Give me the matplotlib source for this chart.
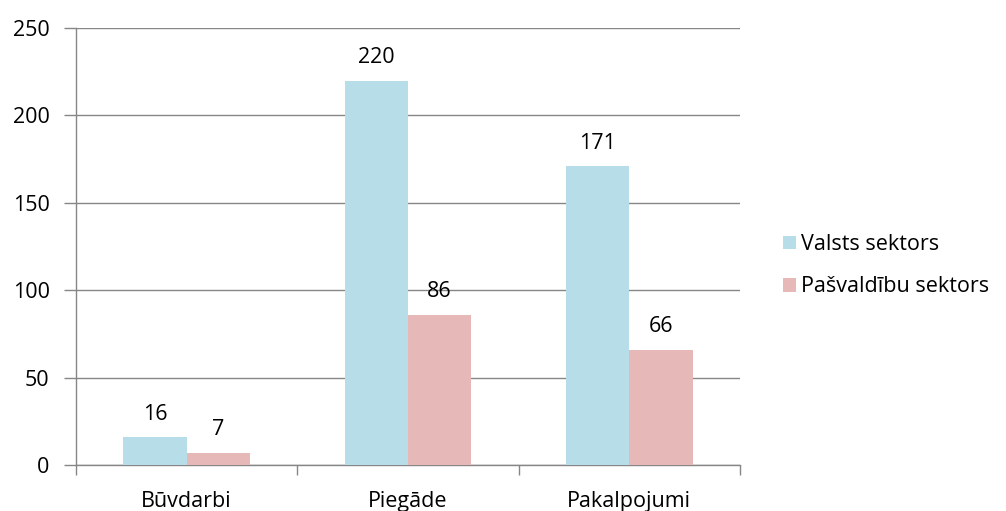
import matplotlib.pyplot as plt
import numpy as np

categories = ["Būvdarbi", "Piegāde", "Pakalpojumi"]
valsts = [16, 220, 171]
pasvaldibu = [7, 86, 66]
series_names = ["Valsts sektors", "Pašvaldību sektors"]
yticks = [0, 50, 100, 150, 200, 250]

plt.rcParams['font.family'] = ['Open Sans', 'DejaVu Sans']
fs = 15.5

fig = plt.figure(figsize=(10.06, 5.11), dpi=100)
ax = fig.add_axes([0.0755, 0.090, 0.660, 0.855])

x = np.arange(len(categories))
w = 0.286
b1 = ax.bar(x - w / 2, valsts, w, color="#B7DEE8", label=series_names[0], zorder=3)
b2 = ax.bar(x + w / 2, pasvaldibu, w, color="#E6B9B8", label=series_names[1], zorder=3)

# value labels above bars
for bars in (b1, b2):
    for r in bars:
        ax.annotate(str(int(r.get_height())), (r.get_x() + r.get_width() / 2, r.get_height()),
                    xytext=(0, 9), textcoords="offset points", ha="center", va="bottom",
                    fontsize=fs)

ax.set_xlim(-0.5, 2.5)
ax.set_ylim(0, 250)
ax.set_yticks(yticks)
ax.grid(axis="y", color="#868686", linewidth=1, zorder=0)
ax.set_xticks(x)
ax.set_xticklabels(categories, fontsize=fs)
ax.set_xticks([-0.5, 0.5, 1.5, 2.5], minor=True)
ax.tick_params(axis="x", which="major", length=0, pad=19)
ax.tick_params(axis="x", which="minor", length=7, color="#868686", width=1)
ax.tick_params(axis="y", length=9, color="#868686", width=1, labelsize=fs, pad=10)
for s in ("top", "right"):
    ax.spines[s].set_visible(False)
for s in ("left", "bottom"):
    ax.spines[s].set_color("#868686")
    ax.spines[s].set_linewidth(1)

fig.legend(handles=[b1, b2], loc="center left", bbox_to_anchor=(0.759, 0.48),
           frameon=False, fontsize=fs, handlelength=0.6, handleheight=0.6,
           handletextpad=0.25, labelspacing=1.0)

fig.savefig("out.png", dpi=100)
